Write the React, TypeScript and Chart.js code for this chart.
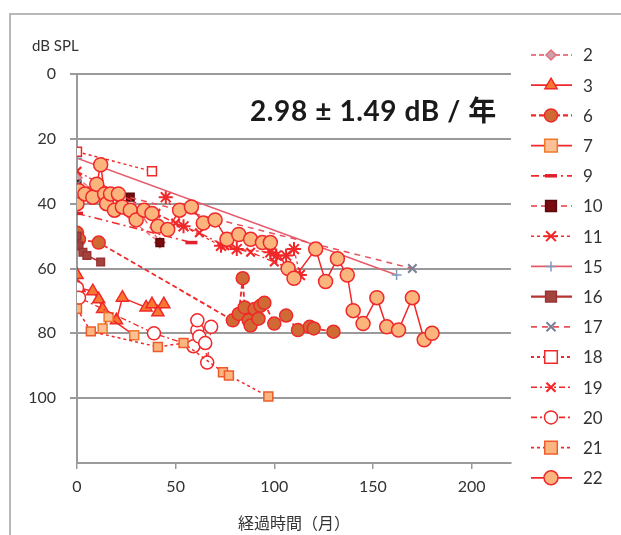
import React, { useEffect, useRef } from 'react';
import { Chart, registerables } from 'chart.js';

Chart.register(...registerables);

// ---------- data ----------
const xTickValues = [0, 50, 100, 150, 200];
const yTickValues = [0, 20, 40, 60, 80, 100];
const seriesNames = ['2', '3', '6', '7', '9', '10', '11', '15', '16', '17', '18', '19', '20', '21', '22'];

const s2x = [0, 42];
const s2y = [32, 52];
const s3x = [0, 1, 8, 11, 13, 20, 23, 35, 38, 41, 44];
const s3y = [62, 66, 67, 69.5, 72.5, 76, 69, 72, 71, 73.5, 71];
const s6x = [0, 1, 11, 79, 82, 84, 85, 87, 88, 90, 92, 93, 95, 100, 106, 112, 118, 120, 130];
const s6y = [49, 51, 52, 76, 74, 63, 72, 76, 77.6, 72.5, 75.5, 71.5, 70.6, 77, 74.5, 79, 78, 78.5, 79.5];
const s7x = [13, 16, 29];
const s7y = [78.5, 75, 80.6];
const s9x = [0, 58];
const s9y = [43, 52];
const s10x = [0, 27, 42];
const s10y = [34, 38, 52];
const s11x = [45, 54, 73, 76, 81, 98, 101, 106, 110, 113];
const s11y = [38, 47, 53, 52, 54, 55, 56, 56, 54, 62];
const s15x = [0, 162];
const s15y = [26, 62];
const s16x = [0, 1, 3, 5, 12];
const s16y = [50, 53, 55, 56, 58];
const s17x = [0, 170];
const s17y = [34, 60];
const s18x = [0, 38];
const s18y = [24, 30];
const s19x = [0, 40, 50, 62, 75, 88, 100, 108];
const s19y = [30, 43, 46, 49, 53, 55, 58, 60];
const s20x = [0, 1, 39, 59, 61, 61, 62, 65, 66, 68];
const s20y = [66, 69, 80, 84, 79, 76, 81, 83, 89, 78];
const s21x = [0, 7, 41, 54, 74, 77, 97];
const s21y = [72.4, 79.4, 84.2, 83, 92, 93, 99.5];
const s22x = [0, 1, 4, 8, 10, 12, 14, 15, 17, 19, 21, 23, 27, 30, 34, 38, 41, 46, 52, 58, 64, 70, 76, 82, 88, 94, 98, 107, 110, 121, 126, 132, 137, 140, 145, 152, 157, 163, 170, 176, 180];
const s22y = [40, 36, 37, 38, 34, 28, 37, 40, 37, 42, 37, 41, 42, 45, 42, 43, 47, 48, 42, 41, 46, 45, 51, 49.5, 51, 52, 52, 60, 63, 54, 64, 57, 62, 73, 77, 69, 78, 79, 69, 82, 80];

const seriesX = [s2x, s3x, s6x, s7x, s9x, s10x, s11x, s15x, s16x, s17x, s18x, s19x, s20x, s21x, s22x];
const seriesY = [s2y, s3y, s6y, s7y, s9y, s10y, s11y, s15y, s16y, s17y, s18y, s19y, s20y, s21y, s22y];

// ---------- styles ----------
type St = { ps: string; r: number; fill: string; stroke: string; bw: number; line: string; lw: number; dash: number[] };
const RED = '#f0282a';
const styles: St[] = [
  { ps: 'rectRot', r: 5, fill: '#c9a3ab', stroke: '#e8707e', bw: 1.5, line: '#ec7a86', lw: 1.5, dash: [5, 3] },
  { ps: 'triangle', r: 7, fill: '#f7792f', stroke: RED, bw: 1.5, line: RED, lw: 1.5, dash: [] },
  { ps: 'circle', r: 6.5, fill: '#d06a35', stroke: RED, bw: 1.5, line: RED, lw: 1.8, dash: [5, 3] },
  { ps: 'rect', r: 7, fill: '#fbc095', stroke: '#f07828', bw: 1.5, line: RED, lw: 1.5, dash: [] },
  { ps: 'line', r: 6, fill: RED, stroke: '#e0202a', bw: 3.5, line: RED, lw: 1.5, dash: [8, 4, 2, 4] },
  { ps: 'rect', r: 6, fill: '#7a0c10', stroke: '#5a0a0a', bw: 1.5, line: '#ee6a70', lw: 1.5, dash: [6, 4] },
  { ps: 'star', r: 7, fill: RED, stroke: RED, bw: 2, line: RED, lw: 1.2, dash: [3, 3] },
  { ps: 'cross', r: 5, fill: '#7f9cc0', stroke: '#7f9cc0', bw: 1.5, line: '#e65a6a', lw: 1.5, dash: [] },
  { ps: 'rect', r: 6, fill: '#a2443e', stroke: '#9a3434', bw: 1.5, line: '#b83232', lw: 1.8, dash: [] },
  { ps: 'crossRot', r: 6, fill: '#7a7f98', stroke: '#7a7f98', bw: 2, line: '#e8505a', lw: 1.5, dash: [6, 5] },
  { ps: 'rect', r: 7, fill: '#ffffff', stroke: RED, bw: 1.5, line: RED, lw: 1.5, dash: [3, 3] },
  { ps: 'crossRot', r: 6, fill: RED, stroke: RED, bw: 2.2, line: RED, lw: 1.3, dash: [6, 3, 2, 3] },
  { ps: 'circle', r: 6.5, fill: '#ffffff', stroke: RED, bw: 1.5, line: RED, lw: 1.3, dash: [6, 3, 2, 3] },
  { ps: 'rect', r: 7, fill: '#fbb680', stroke: '#f05a2a', bw: 1.5, line: RED, lw: 1.5, dash: [3, 3] },
  { ps: 'circle', r: 7, fill: '#fbb47c', stroke: RED, bw: 1.5, line: RED, lw: 1.5, dash: [] },
];

const FONT = 'Lato, "Noto Sans CJK JP", sans-serif';

function drawMarker(ctx: CanvasRenderingContext2D, s: St, x: number, y: number) {
  const r = s.r;
  ctx.save();
  ctx.setLineDash([]);
  ctx.fillStyle = s.fill;
  ctx.strokeStyle = s.stroke;
  ctx.lineWidth = s.bw;
  ctx.beginPath();
  switch (s.ps) {
    case 'circle':
      ctx.arc(x, y, r, 0, Math.PI * 2);
      ctx.fill(); ctx.stroke();
      break;
    case 'rect': {
      const h = r * 0.9;
      ctx.rect(x - h, y - h, 2 * h, 2 * h);
      ctx.fill(); ctx.stroke();
      break;
    }
    case 'rectRot':
      ctx.moveTo(x, y - r); ctx.lineTo(x + r, y); ctx.lineTo(x, y + r); ctx.lineTo(x - r, y); ctx.closePath();
      ctx.fill(); ctx.stroke();
      break;
    case 'triangle':
      ctx.moveTo(x, y - r); ctx.lineTo(x + r * 0.87, y + r * 0.5); ctx.lineTo(x - r * 0.87, y + r * 0.5); ctx.closePath();
      ctx.fill(); ctx.stroke();
      break;
    case 'line':
      ctx.moveTo(x - r, y); ctx.lineTo(x + r, y); ctx.stroke();
      break;
    case 'cross':
      ctx.moveTo(x - r, y); ctx.lineTo(x + r, y); ctx.moveTo(x, y - r); ctx.lineTo(x, y + r); ctx.stroke();
      break;
    case 'crossRot': {
      const d = r * 0.75;
      ctx.moveTo(x - d, y - d); ctx.lineTo(x + d, y + d); ctx.moveTo(x + d, y - d); ctx.lineTo(x - d, y + d); ctx.stroke();
      break;
    }
    case 'star': {
      const d = r * 0.7;
      ctx.moveTo(x - d, y - d); ctx.lineTo(x + d, y + d); ctx.moveTo(x + d, y - d); ctx.lineTo(x - d, y + d);
      ctx.moveTo(x - r, y); ctx.lineTo(x + r, y); ctx.stroke();
      break;
    }
  }
  ctx.restore();
}

const decorPlugin = {
  id: 'decor',
  beforeDraw(chart: any) {
    const ctx = chart.ctx;
    ctx.save();
    ctx.fillStyle = '#ffffff';
    ctx.fillRect(0, 0, chart.width, chart.height);
    ctx.restore();
  },
  afterDraw(chart: any) {
    const ctx: CanvasRenderingContext2D = chart.ctx;
    ctx.save();
    // frame
    ctx.strokeStyle = '#b8b8b8';
    ctx.lineWidth = 2;
    ctx.beginPath();
    ctx.moveTo(10, 540);
    ctx.lineTo(10, 14);
    ctx.lineTo(630, 14);
    ctx.stroke();
    // axis unit label
    ctx.fillStyle = '#333333';
    ctx.font = '15px ' + FONT;
    ctx.textAlign = 'left';
    ctx.textBaseline = 'middle';
    ctx.fillText('dB SPL', 32, 46);
    // annotation
    ctx.fillStyle = '#1a1a1a';
    ctx.font = 'bold 28px ' + FONT;
    ctx.textAlign = 'left';
    (ctx as any).letterSpacing = '0.6px';
    ctx.fillText('2.98 ± 1.49 dB / 年', 250, 112);
    (ctx as any).letterSpacing = '0px';
    // legend
    const top = 55;
    const step = 30.2;
    seriesNames.forEach((name, i) => {
      const s = styles[i];
      const y = top + i * step;
      ctx.save();
      ctx.strokeStyle = s.line;
      ctx.lineWidth = s.lw + 0.3;
      ctx.setLineDash(s.dash);
      ctx.beginPath();
      ctx.moveTo(531, y);
      ctx.lineTo(572, y);
      ctx.stroke();
      ctx.restore();
      drawMarker(ctx, s, 551, y);
      ctx.fillStyle = '#333333';
      ctx.font = '17px ' + FONT;
      ctx.textAlign = 'left';
      ctx.textBaseline = 'middle';
      ctx.fillText(name, 583, y + 1);
    });
    ctx.restore();
  },
};

export default function App() {
  const ref = useRef<HTMLCanvasElement | null>(null);
  useEffect(() => {
    if (!ref.current) return;
    const datasets = seriesNames.map((name, i) => {
      const s = styles[i];
      return {
        label: name,
        data: seriesX[i].map((x, j) => ({ x, y: seriesY[i][j] })),
        showLine: true,
        borderColor: s.line,
        borderWidth: s.lw,
        borderDash: s.dash,
        pointStyle: s.ps,
        pointRadius: s.ps === 'rect' ? s.r * 0.9 : s.r,
        pointBackgroundColor: s.fill,
        pointBorderColor: s.stroke,
        pointBorderWidth: s.bw,
        backgroundColor: s.fill,
        fill: false,
        order: seriesNames.length - i,
      };
    });
    const chart = new Chart(ref.current, {
      type: 'scatter',
      data: { datasets },
      options: {
        animation: false,
        responsive: false,
        maintainAspectRatio: false,
        events: [],
        layout: { padding: { top: 74, right: 110, left: 0, bottom: 0 } },
        plugins: { legend: { display: false }, tooltip: { enabled: false } },
        scales: {
          x: {
            type: 'linear',
            min: 0,
            max: 220,
            afterBuildTicks: (scale: any) => {
              scale.ticks = xTickValues.map((v) => ({ value: v }));
            },
            afterFit: (scale: any) => {
              scale.height = 72;
            },
            grid: { drawOnChartArea: false, drawTicks: true, tickLength: 6, color: '#9a9a9a', lineWidth: 1.5 },
            border: { display: true, color: '#9a9a9a', width: 2 },
            ticks: { color: '#333333', font: { family: FONT, size: 16 }, padding: 8, maxRotation: 0 },
            title: { display: true, text: '経過時間（月）', color: '#333333', font: { family: FONT, size: 16 }, padding: { top: 0, bottom: 2 } },
          },
          y: {
            type: 'linear',
            reverse: true,
            min: 0,
            max: 120,
            afterBuildTicks: (scale: any) => {
              scale.ticks = yTickValues.map((v) => ({ value: v }));
            },
            afterFit: (scale: any) => {
              scale.width = 77;
            },
            grid: { drawOnChartArea: true, drawTicks: true, tickLength: 7, color: '#9a9a9a', lineWidth: 2 },
            border: { display: true, color: '#9a9a9a', width: 2 },
            ticks: { color: '#333333', font: { family: FONT, size: 16 }, padding: 14 },
          },
        },
      },
      plugins: [decorPlugin],
    } as any);
    return () => chart.destroy();
  }, []);
  return (
    <div style={{ position: 'absolute', left: 0, top: 0, width: 621, height: 535, background: '#ffffff' }}>
      <canvas ref={ref} width={621} height={535} style={{ display: 'block', width: 621, height: 535 }} />
    </div>
  );
}
